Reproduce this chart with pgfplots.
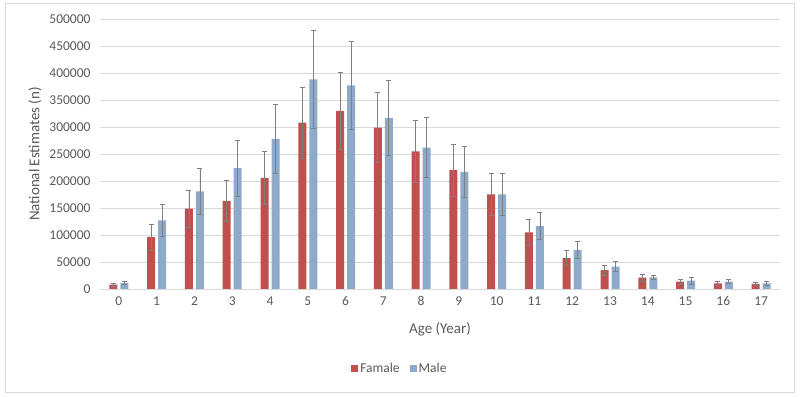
\documentclass[border=0pt]{standalone}
\usepackage{pgfplots}
\pgfplotsset{compat=1.18}
\usepackage{pgfplotstable}
\usepackage{fontspec}
\setmainfont{Carlito}
\definecolor{fem}{HTML}{C0504D}
\definecolor{mal}{HTML}{8EAACB}
\definecolor{txt}{HTML}{595959}
\definecolor{gridc}{HTML}{D9D9D9}
\definecolor{errc}{HTML}{7F7F7F}

\pgfplotstableread{
x  f      fe     m      me
0  8000   2500   11000  3000
1  96000  24000  127000 30000
2  149000 34000  181000 43000
3  163000 38000  224000 52000
4  206000 49000  278000 64000
5  308000 66000  388000 90000
6  330000 72000  377000 81000
7  299000 65000  317000 69000
8  255000 57000  262000 56000
9  220000 48000  217000 47000
10 175000 39000  175000 39000
11 105000 23500  117000 25500
12 57000  14000  72500  16000
13 35000  9500   41500  9500
14 21000  6800   21500  4500
15 13600  4500   15500  6800
16 10500  3200   13600  3700
17 9300   2600   10500  3100
}\data

\begin{document}
\begin{tikzpicture}[x=1pt,y=1pt]
\useasboundingbox (0,0) rectangle (800,396);
\draw[gridc, line width=0.8pt] (5,4) rectangle (794,393);
\begin{axis}[
  at={(100pt,107pt)}, anchor=south west,
  scale only axis, width=680pt, height=270pt,
  ybar=3pt, bar width=8pt,
  xmin=-0.5, xmax=17.5, ymin=0, ymax=500000,
  xtick={0,...,17}, ytick={0,50000,...,500000},
  axis x line*=bottom, axis y line*=left,
  x axis line style={gridc, line width=0.8pt, -},
  y axis line style={draw=none},
  ymajorgrids, grid style={gridc, line width=0.8pt},
  major tick length=0pt,
  tick label style={font=\fontsize{13.5}{14}\selectfont, text=txt},
  /pgf/number format/.cd, fixed, precision=0, 1000 sep={}, assume math mode=true, /pgfplots/.cd,
  scaled y ticks=false,
  yticklabel style={anchor=east, xshift=-6pt},
  xticklabel style={anchor=center, yshift=-12pt},
  xlabel={Age (Year)},
  ylabel={National Estimates (n)},
  label style={font=\fontsize{15}{16}\selectfont, text=txt},
  xlabel style={at={(axis description cs:0.5,-0.148)}, anchor=center},
  ylabel style={at={(axis description cs:-0.0956,0.5)}, anchor=center, rotate=0},
  legend style={at={(axis description cs:0.441,-0.296)}, anchor=center,
    draw=none, font=\fontsize{13.5}{14}\selectfont, text=txt,
    legend columns=2, /tikz/every even column/.append style={column sep=8pt}},
  legend image code/.code={\fill[#1] (0pt,-3.5pt) rectangle (7pt,3.5pt);},
]
\addplot[fill=fem, draw=none,
  error bars/.cd, y dir=both, y explicit,
  error bar style={errc, line width=0.8pt},
  error mark options={errc, rotate=90, mark size=2.5pt, line width=0.8pt}]
  table[x=x, y=f, y error=fe] {\data};
\addplot[fill=mal, draw=none,
  error bars/.cd, y dir=both, y explicit,
  error bar style={errc, line width=0.8pt},
  error mark options={errc, rotate=90, mark size=2.5pt, line width=0.8pt}]
  table[x=x, y=m, y error=me] {\data};
\legend{Famale, Male}
\end{axis}
\end{tikzpicture}
\end{document}
